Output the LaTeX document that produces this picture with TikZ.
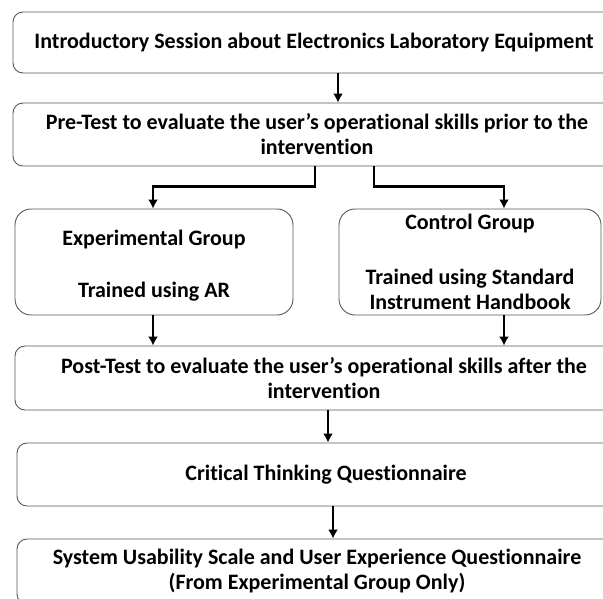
\documentclass[tikz,border=0pt]{standalone}
\usepackage{fontspec}
\setmainfont{Carlito}[Ligatures=NoCommon]
\usetikzlibrary{positioning,arrows.meta}

\begin{document}
\begin{tikzpicture}[>={Latex[length=9pt,width=10pt]}, x=1pt, y=-1pt,
  box/.style={draw=black!65, line width=0.9pt, rounded corners=10pt, align=center,
    font=\fontsize{22}{25}\selectfont\bfseries, inner sep=0pt},
  wide/.style={box, minimum height=63pt},
  group/.style={box, rounded corners=16pt, minimum height=106pt},
  flow/.style={->, line width=2.4pt}]
\useasboundingbox (0,0) rectangle (603,599);
\clip (0,0) rectangle (603,599);

% main column, cut off at the right edge
\node[wide, minimum width=602pt, minimum height=61pt] (intro) at (314,42.5)
  {Introductory Session about Electronics Laboratory Equipment};
\node[wide, minimum width=608pt] (pre) at (317,134.5)
  {Pre-Test to evaluate the user’s operational skills prior to the\\intervention};

\node[group, minimum width=278pt] (exp) at (154,262)
  {\\[-2pt]Experimental Group\\[27pt]Trained using AR};
\node[group, minimum width=262pt] (ctrl) at (470,262)
  {Control Group\\[30pt]Trained using Standard\\Instrument Handbook};

\node[wide, minimum width=618pt, minimum height=64pt] (post) at (324,378)
  {Post-Test to evaluate the user’s operational skills after the\\intervention};
\node[wide, minimum width=618pt] (crit) at (326,474.5)
  {Critical Thinking Questionnaire};
\node[wide, minimum width=600pt, minimum height=65pt] (sus) at (317,571.5)
  {System Usability Scale and\ User Experience Questionnaire\\(From Experimental Group Only)};

% arrow columns
\coordinate (c1) at (338,0);
\coordinate (cl) at (315,0);
\coordinate (cr) at (374,0);
\coordinate (ce) at (153,0);
\coordinate (cc) at (504,0);
\coordinate (c2) at (328,0);
\coordinate (c3) at (333,0);

\draw[flow] (intro.south -| c1) -- (pre.north -| c1);
\draw[flow] (pre.south -| cl) -- ++(0,20) -| (exp.north -| ce);
\draw[flow] (pre.south -| cr) -- ++(0,20) -| (ctrl.north -| cc);
\draw[flow] (exp.south -| ce) -- (post.north -| ce);
\draw[flow] (ctrl.south -| cc) -- (post.north -| cc);
\draw[flow] (post.south -| c2) -- (crit.north -| c2);
\draw[flow] (crit.south -| c3) -- (sus.north -| c3);

\end{tikzpicture}
\end{document}
